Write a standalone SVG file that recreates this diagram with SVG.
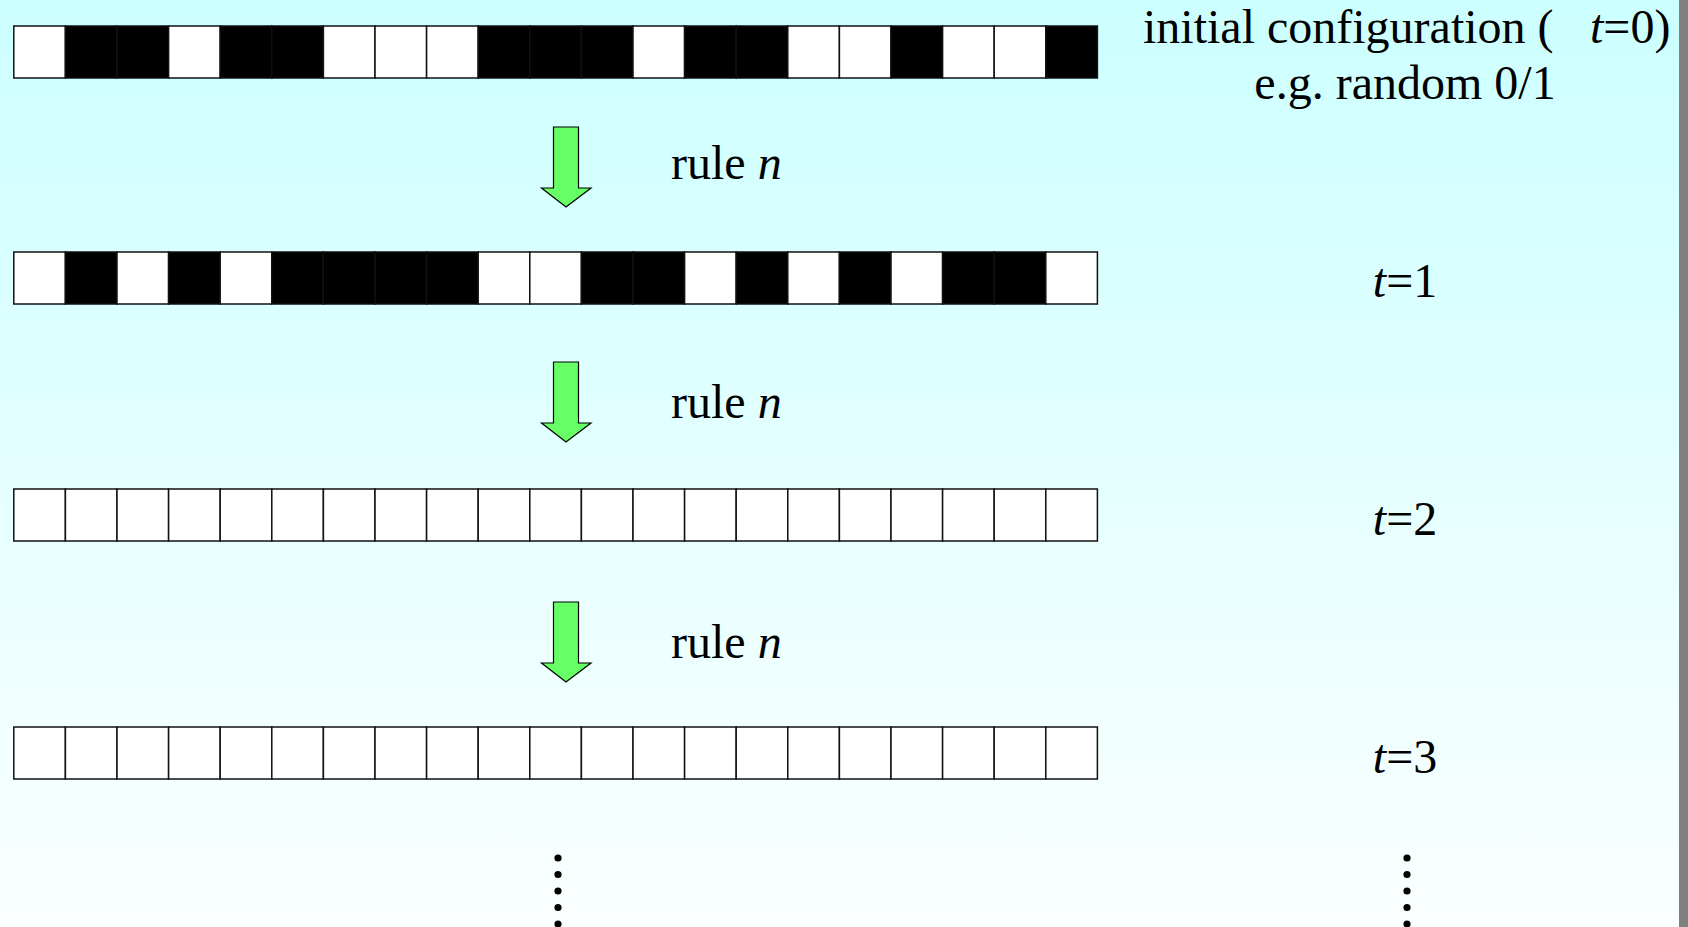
<svg xmlns="http://www.w3.org/2000/svg" width="1688" height="927" viewBox="0 0 1688 927">
<defs>
<linearGradient id="bg" x1="0" y1="0" x2="0" y2="1">
<stop offset="0" stop-color="#CCFFFF"/>
<stop offset="1" stop-color="#FBFFFF"/>
</linearGradient>
<path id="arr" d="M553.5,0 H578.5 V61 H591 L566,80 L541.5,61 H553.5 Z"/>
</defs>
<style>
.w{fill:#FFFFFF;stroke:#111;stroke-width:1.5}
.b{fill:#000000;stroke:#111;stroke-width:1.5}
.t{font-family:"Liberation Serif","Times New Roman",serif;font-size:48px;fill:#000}
.i{font-style:italic}
.arrow{fill:#66FF66;stroke:#000;stroke-width:1.2}
.dot{fill:#000}
</style>
<rect x="0" y="0" width="1688" height="927" fill="url(#bg)"/>
<rect x="1679" y="0" width="9" height="927" fill="#808080"/>

<g id="row0">
<rect class="w" x="13.8" y="26" width="51.6" height="52"/>
<rect class="b" x="65.4" y="26" width="51.6" height="52"/>
<rect class="b" x="117" y="26" width="51.6" height="52"/>
<rect class="w" x="168.6" y="26" width="51.6" height="52"/>
<rect class="b" x="220.2" y="26" width="51.6" height="52"/>
<rect class="b" x="271.8" y="26" width="51.6" height="52"/>
<rect class="w" x="323.4" y="26" width="51.6" height="52"/>
<rect class="w" x="375" y="26" width="51.6" height="52"/>
<rect class="w" x="426.6" y="26" width="51.6" height="52"/>
<rect class="b" x="478.2" y="26" width="51.6" height="52"/>
<rect class="b" x="529.8" y="26" width="51.6" height="52"/>
<rect class="b" x="581.4" y="26" width="51.6" height="52"/>
<rect class="w" x="633" y="26" width="51.6" height="52"/>
<rect class="b" x="684.6" y="26" width="51.6" height="52"/>
<rect class="b" x="736.2" y="26" width="51.6" height="52"/>
<rect class="w" x="787.8" y="26" width="51.6" height="52"/>
<rect class="w" x="839.4" y="26" width="51.6" height="52"/>
<rect class="b" x="891" y="26" width="51.6" height="52"/>
<rect class="w" x="942.6" y="26" width="51.6" height="52"/>
<rect class="w" x="994.2" y="26" width="51.6" height="52"/>
<rect class="b" x="1045.8" y="26" width="51.6" height="52"/>
</g>

<g id="row1">
<rect class="w" x="13.8" y="252" width="51.6" height="52"/>
<rect class="b" x="65.4" y="252" width="51.6" height="52"/>
<rect class="w" x="117" y="252" width="51.6" height="52"/>
<rect class="b" x="168.6" y="252" width="51.6" height="52"/>
<rect class="w" x="220.2" y="252" width="51.6" height="52"/>
<rect class="b" x="271.8" y="252" width="51.6" height="52"/>
<rect class="b" x="323.4" y="252" width="51.6" height="52"/>
<rect class="b" x="375" y="252" width="51.6" height="52"/>
<rect class="b" x="426.6" y="252" width="51.6" height="52"/>
<rect class="w" x="478.2" y="252" width="51.6" height="52"/>
<rect class="w" x="529.8" y="252" width="51.6" height="52"/>
<rect class="b" x="581.4" y="252" width="51.6" height="52"/>
<rect class="b" x="633" y="252" width="51.6" height="52"/>
<rect class="w" x="684.6" y="252" width="51.6" height="52"/>
<rect class="b" x="736.2" y="252" width="51.6" height="52"/>
<rect class="w" x="787.8" y="252" width="51.6" height="52"/>
<rect class="b" x="839.4" y="252" width="51.6" height="52"/>
<rect class="w" x="891" y="252" width="51.6" height="52"/>
<rect class="b" x="942.6" y="252" width="51.6" height="52"/>
<rect class="b" x="994.2" y="252" width="51.6" height="52"/>
<rect class="w" x="1045.8" y="252" width="51.6" height="52"/>
</g>

<g id="row2">
<rect class="w" x="13.8" y="489" width="51.6" height="52"/>
<rect class="w" x="65.4" y="489" width="51.6" height="52"/>
<rect class="w" x="117" y="489" width="51.6" height="52"/>
<rect class="w" x="168.6" y="489" width="51.6" height="52"/>
<rect class="w" x="220.2" y="489" width="51.6" height="52"/>
<rect class="w" x="271.8" y="489" width="51.6" height="52"/>
<rect class="w" x="323.4" y="489" width="51.6" height="52"/>
<rect class="w" x="375" y="489" width="51.6" height="52"/>
<rect class="w" x="426.6" y="489" width="51.6" height="52"/>
<rect class="w" x="478.2" y="489" width="51.6" height="52"/>
<rect class="w" x="529.8" y="489" width="51.6" height="52"/>
<rect class="w" x="581.4" y="489" width="51.6" height="52"/>
<rect class="w" x="633" y="489" width="51.6" height="52"/>
<rect class="w" x="684.6" y="489" width="51.6" height="52"/>
<rect class="w" x="736.2" y="489" width="51.6" height="52"/>
<rect class="w" x="787.8" y="489" width="51.6" height="52"/>
<rect class="w" x="839.4" y="489" width="51.6" height="52"/>
<rect class="w" x="891" y="489" width="51.6" height="52"/>
<rect class="w" x="942.6" y="489" width="51.6" height="52"/>
<rect class="w" x="994.2" y="489" width="51.6" height="52"/>
<rect class="w" x="1045.8" y="489" width="51.6" height="52"/>
</g>

<g id="row3">
<rect class="w" x="13.8" y="727" width="51.6" height="52"/>
<rect class="w" x="65.4" y="727" width="51.6" height="52"/>
<rect class="w" x="117" y="727" width="51.6" height="52"/>
<rect class="w" x="168.6" y="727" width="51.6" height="52"/>
<rect class="w" x="220.2" y="727" width="51.6" height="52"/>
<rect class="w" x="271.8" y="727" width="51.6" height="52"/>
<rect class="w" x="323.4" y="727" width="51.6" height="52"/>
<rect class="w" x="375" y="727" width="51.6" height="52"/>
<rect class="w" x="426.6" y="727" width="51.6" height="52"/>
<rect class="w" x="478.2" y="727" width="51.6" height="52"/>
<rect class="w" x="529.8" y="727" width="51.6" height="52"/>
<rect class="w" x="581.4" y="727" width="51.6" height="52"/>
<rect class="w" x="633" y="727" width="51.6" height="52"/>
<rect class="w" x="684.6" y="727" width="51.6" height="52"/>
<rect class="w" x="736.2" y="727" width="51.6" height="52"/>
<rect class="w" x="787.8" y="727" width="51.6" height="52"/>
<rect class="w" x="839.4" y="727" width="51.6" height="52"/>
<rect class="w" x="891" y="727" width="51.6" height="52"/>
<rect class="w" x="942.6" y="727" width="51.6" height="52"/>
<rect class="w" x="994.2" y="727" width="51.6" height="52"/>
<rect class="w" x="1045.8" y="727" width="51.6" height="52"/>
</g>

<g id="connectors">
<use href="#arr" class="arrow" y="127"/>
<use href="#arr" class="arrow" y="362"/>
<use href="#arr" class="arrow" y="602"/>
</g>

<g id="rule-labels">
<text class="t" x="671" y="179">rule <tspan class="i">n</tspan></text>
<text class="t" x="671" y="418">rule <tspan class="i">n</tspan></text>
<text class="t" x="671" y="658">rule <tspan class="i">n</tspan></text>
</g>

<g id="label0">
<text class="t" x="1143" y="43">initial configuration (</text>
<text class="t" x="1590" y="43"><tspan class="i">t</tspan>=0)</text>
<text class="t" x="1405" y="99" text-anchor="middle">e.g. random 0/1</text>
</g>
<g id="label1"><text class="t" x="1405" y="297" text-anchor="middle"><tspan class="i">t</tspan>=1</text></g>
<g id="label2"><text class="t" x="1405" y="535" text-anchor="middle"><tspan class="i">t</tspan>=2</text></g>
<g id="label3"><text class="t" x="1405" y="773" text-anchor="middle"><tspan class="i">t</tspan>=3</text></g>

<g id="dots-left">
<circle class="dot" cx="558" cy="858" r="3.6"/>
<circle class="dot" cx="558" cy="874.5" r="3.6"/>
<circle class="dot" cx="558" cy="891" r="3.6"/>
<circle class="dot" cx="558" cy="907.5" r="3.6"/>
<circle class="dot" cx="558" cy="924" r="3.6"/>
</g>
<g id="dots-right">
<circle class="dot" cx="1407" cy="858" r="3.6"/>
<circle class="dot" cx="1407" cy="874.5" r="3.6"/>
<circle class="dot" cx="1407" cy="891" r="3.6"/>
<circle class="dot" cx="1407" cy="907.5" r="3.6"/>
<circle class="dot" cx="1407" cy="924" r="3.6"/>
</g>
</svg>
